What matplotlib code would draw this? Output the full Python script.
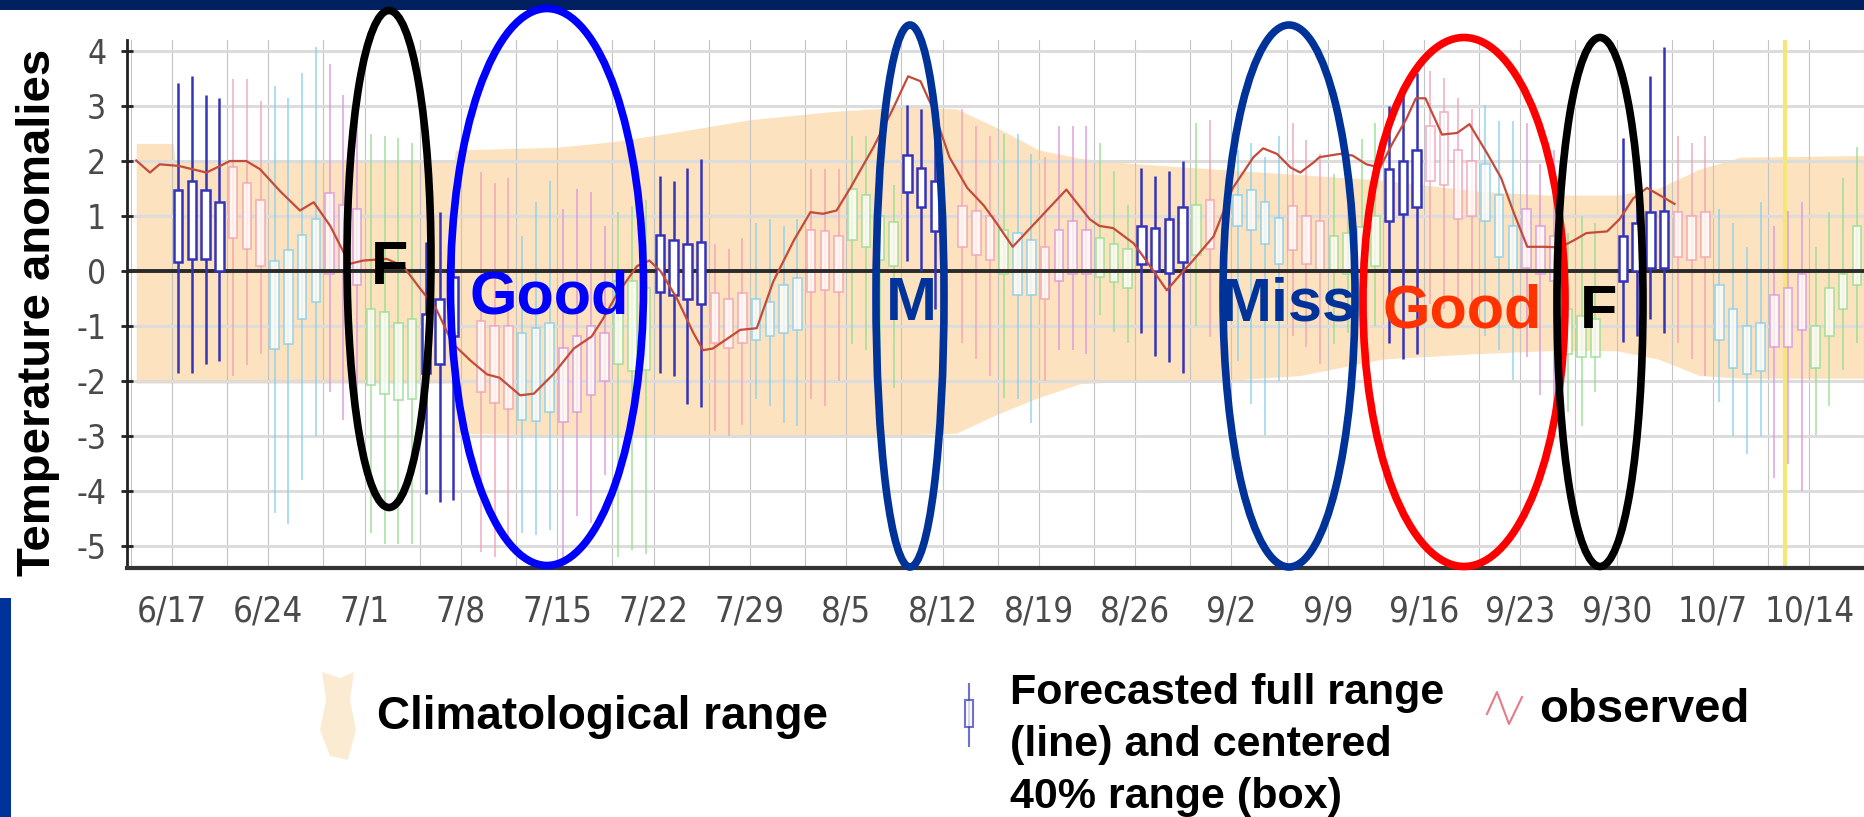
import matplotlib
matplotlib.use('Agg')
import matplotlib.pyplot as plt
from matplotlib import font_manager as fm
from matplotlib.patches import Ellipse, Rectangle, Polygon
from matplotlib.lines import Line2D

W, H, DPI = 1864, 817, 100

names = {f.name for f in fm.fontManager.ttflist}
BOLD = 'Liberation Sans' if 'Liberation Sans' in names else 'DejaVu Sans'


def find_narrow():
    pref = ['Liberation Sans Narrow', 'Arial Narrow', 'DejaVu Sans', 'Roboto Condensed',
            'Open Sans Condensed', 'Noto Sans']
    cands = []
    for f in fm.fontManager.ttflist:
        st = str(f.stretch).lower()
        narrow = ('narrow' in f.name.lower() or 'condensed' in f.name.lower()
                  or 'condensed' in st or st in ('75', '62.5', '50', '87.5'))
        if not narrow:
            continue
        if str(f.style).lower() != 'normal':
            continue
        if f.weight not in (400, 'normal', 'regular', 'Regular', 'book'):
            continue
        cands.append(f)
    for p in pref:
        for f in cands:
            if f.name == p:
                return f.fname
    return cands[0].fname if cands else None


NARROW_PATH = find_narrow()

# ---------------- data ----------------
tick_days = [0, 7, 14, 21, 28, 35, 42, 49, 56, 63, 70, 77, 84, 91, 98, 105, 112, 119]
tick_labels = ['6/17', '6/24', '7/1', '7/8', '7/15', '7/22', '7/29', '8/5', '8/12',
               '8/19', '8/26', '9/2', '9/9', '9/16', '9/23', '9/30', '10/7', '10/14']
grid_days = [-3, 0, 4, 7, 11, 14, 18, 21, 25, 28, 32, 35, 39, 42, 46, 49, 53, 56, 60,
             63, 67, 70, 74, 77, 81, 84, 88, 91, 95, 98, 102, 105, 109, 112, 116, 119, 123]
ytick_vals = [4, 3, 2, 1, 0, -1, -2, -3, -4, -5]
ytick_labels = ['4', '3', '2', '1', '0', '-1', '-2', '-3', '-4', '-5']
today_day = 117.2

# climatological range
clim_days = [-2.6, 0.1, 0.2, 20.5, 20.6, 28, 32, 36, 42, 48, 53, 57, 60, 63, 66, 70,
             76, 82, 88, 95, 100, 105, 108, 111, 114, 123]
clim_top = [2.32, 2.32, 2.0, 2.0, 2.2, 2.25, 2.35, 2.5, 2.75, 2.9, 2.98, 2.95, 2.6, 2.2,
            2.05, 1.95, 1.85, 1.75, 1.65, 1.45, 1.38, 1.38, 1.5, 1.85, 2.07, 2.1]
clim_bot = [-2.04, -2.04, -2.04, -2.04, -2.95, -2.98, -2.98, -2.98, -2.98, -2.98, -2.98,
            -2.95, -2.6, -2.3, -2.05, -2.0, -2.0, -1.9, -1.6, -1.5, -1.45, -1.45, -1.6,
            -1.9, -1.95, -1.95]

# observed
obs_days = [-2.6, -1.6, -0.9, 0.5, 2.5, 3.5, 4.2, 5.4, 6.4, 7.9, 9.3, 10.3, 11.5, 12.9,
            13.9, 15.6, 16.8, 18.0, 19.2, 20.4, 21.7, 22.9, 23.8, 25.3, 26.3, 27.7, 29.2,
            30.5, 31.3, 32.3, 33.8, 34.7, 35.5, 36.7, 37.9, 38.6, 39.3, 40.6, 41.3, 42.5,
            43.7, 45.2, 46.4, 47.3, 48.3, 49.3, 51.0, 52.4, 53.5, 54.4, 55.3, 56.5, 57.8,
            59.0, 59.9, 61.1, 65.0, 66.7, 67.4, 68.4, 69.9, 70.8, 72.3, 73.3, 74.2, 75.7,
            77.1, 78.6, 79.3, 80.3, 81.3, 82.0, 83.0, 83.4, 84.9, 85.8, 86.8, 87.8, 88.7,
            89.7, 90.4, 91.1, 92.3, 93.4, 94.3, 95.6, 96.6, 97.5, 98.5, 99.7, 100.9,
            101.9, 102.8, 104.3, 105.2, 106.2, 107.2, 108.1, 109.2]
obs_vals = [2.01, 1.79, 1.94, 1.91, 1.79, 1.91, 2.0, 2.0, 1.85, 1.44, 1.1, 1.25, 0.82,
            0.13, 0.19, 0.22, 0.09, -0.31, -0.69, -1.32, -1.63, -1.88, -1.94, -2.26,
            -2.23, -1.88, -1.41, -1.19, -0.88, -0.44, 0.09, 0.19, 0.0, -0.5, -1.13, -1.44,
            -1.41, -1.19, -1.07, -1.04, -0.19, 0.56, 1.07, 1.04, 1.1, 1.51, 2.26, 2.95,
            3.54, 3.45, 2.95, 2.07, 1.51, 1.19, 0.88, 0.44, 1.48, 0.94, 0.82, 0.78, 0.5,
            0.19, -0.35, -0.06, 0.19, 0.63, 1.51, 2.07, 2.23, 2.13, 1.88, 1.79, 1.98, 2.07,
            2.13, 2.1, 1.94, 1.88, 2.32, 2.76, 3.14, 3.14, 2.48, 2.51, 2.67, 2.13, 1.69,
            1.07, 0.44, 0.44, 0.43, 0.56, 0.69, 0.72, 0.94, 1.32, 1.51, 1.38, 1.22]

# highlighted forecasts (dark blue)
hl_days = [0, 1, 2, 3, 18, 19, 20, 35, 36, 37, 38, 53, 54, 55, 70, 71, 72, 73,
           88, 89, 90, 105, 106, 107, 108]
hl_hi = [3.42, 3.54, 3.2, 3.14, 0.53, 1.07, 0.35, 1.73, 1.63, 1.88, 2.04, 3.01, 2.95,
         2.89, 1.88, 1.73, 1.82, 2.0, 3.0, 3.2, 3.6, 2.42, 1.6, 3.54, 4.08]
hl_q3 = [1.47, 1.63, 1.47, 1.25, -0.78, -0.5, -0.1, 0.66, 0.56, 0.5, 0.53, 2.1, 1.88,
         1.63, 0.82, 0.78, 0.94, 1.16, 1.85, 2.0, 2.2, 0.63, 0.88, 1.07, 1.1]
hl_q1 = [0.16, 0.22, 0.22, 0.0, -1.85, -1.69, -1.19, -0.38, -0.44, -0.5, -0.6, 1.44,
         1.16, 0.72, 0.13, 0.0, -0.03, 0.16, 0.91, 1.04, 1.16, -0.19, 0.0, 0.06, 0.06]
hl_lo = [-1.85, -1.85, -1.69, -1.63, -4.05, -4.2, -4.17, -1.85, -1.91, -2.42, -2.48,
         0.19, 0.0, -0.69, -1.13, -1.54, -1.66, -1.85, -1.3, -1.6, -1.5, -1.29, -1.19,
         -0.88, -1.13]

# other (faint) forecasts
fc_days = [4, 5, 6, 7, 8, 9, 10, 11, 12, 13, 14, 15, 16, 17, 22, 23, 24, 25, 26, 27,
           28, 29, 30, 31, 32, 33, 34, 39, 40, 41, 42, 43, 44, 45, 46, 47, 48, 49, 50,
           51, 52, 57, 58, 59, 60, 61, 62, 63, 64, 65, 66, 67, 68, 69, 74, 75, 77, 78,
           79, 80, 81, 82, 83, 84, 85, 86, 87, 91, 92, 93, 94, 95, 96, 97, 98, 99, 100,
           101, 102, 103, 109, 110, 111, 112, 113, 114, 115, 116, 117, 118, 119, 120,
           121, 122]
fc_col = list('ppp' 'bbbb' 'mmm' 'gggg' 'ppp' 'bbb' 'mmmm' 'ggg' 'ppp' 'bbbb' 'ppp'
              'gggg' 'ppp' 'g' 'bb' 'p' 'mmm' 'ggg' 'gp' 'bbbb' 'ppp' 'gggg' 'pppp'
              'bbb' 'mmm' 'ggg' 'ppp' 'bbbb' 'mmm' 'gggg')
fc_hi = [3.5, 3.5, 3.1, 3.36, 3.14, 3.6, 4.08, 3.76, 3.2, 2.89, 2.5, 2.45, 2.42, 2.32,
         1.8, 1.6, 1.7, 0.63, 1.25, 1.63, 1.13, 1.5, 1.44, 0.82, 1.07, 1.19, 1.3, 0.5,
         0.4, 0.6, 0.88, 0.94, 0.82, 0.94, 1.85, 1.85, 1.85, 2.45, 2.45, 1.76, 1.57,
         2.95, 2.63, 2.45, 2.5, 2.5, 2.13, 2.07, 2.63, 2.63, 2.63, 2.32, 1.82, 1.2, 2.7,
         2.75, 2.2, 2.32, 2.07, 2.45, 2.7, 2.38, 2.13, 1.76, 2.13, 2.4, 2.7, 3.64, 3.51,
         3.14, 2.95, 3.01, 2.73, 2.73, 2.7, 1.94, 2.2, 0.69, 1.0, 0.88, 2.45, 2.32, 2.45,
         1.13, 0.88, 0.44, 1.25, 0.82, 1.1, 1.25, 0.44, 1.07, 1.69, 2.26]
fc_q3 = [1.9, 1.6, 1.3, 0.19, 0.38, 0.66, 0.94, 1.41, 1.2, 1.13, -0.69, -0.75, -0.94,
         -0.88, -0.9, -1.0, -1.0, -1.13, -1.04, -0.94, -1.4, -1.19, -1.0, -1.13, -0.19,
         -0.19, -0.3, -0.4, -0.5, -0.4, -0.5, -0.56, -0.25, -0.13, 0.75, 0.72, 0.63, 1.5,
         1.38, 1.0, 0.9, 1.19, 1.1, 1.0, 0.75, 0.69, 0.56, 0.44, 0.75, 0.91, 0.75, 0.6,
         0.5, 0.4, 1.2, 1.3, 1.38, 1.47, 1.25, 0.97, 1.19, 1.0, 0.91, 0.63, 0.69, 0.8,
         1.0, 2.63, 2.89, 2.2, 2.0, 1.94, 1.38, 0.82, 1.13, 0.82, 0.63, -0.69, -0.82,
         -0.88, 1.07, 1.0, 1.07, -0.25, -0.69, -1.0, -0.94, -0.44, -0.31, -0.06, -1.0,
         -0.31, -0.06, 0.82]
fc_q1 = [0.6, 0.4, 0.1, -1.41, -1.32, -0.88, -0.56, -0.06, 0.0, -0.25, -2.07, -2.23,
         -2.35, -2.32, -2.2, -2.4, -2.5, -2.7, -2.73, -2.57, -2.75, -2.57, -2.26, -2.0,
         -1.69, -1.82, -1.8, -1.3, -1.4, -1.3, -1.25, -1.19, -1.13, -1.07, -0.38, -0.35,
         -0.38, 0.56, 0.44, 0.2, 0.1, 0.44, 0.3, 0.2, -0.06, -0.44, -0.44, -0.5, -0.19,
         -0.06, -0.06, -0.1, -0.2, -0.3, 0.3, 0.4, 0.82, 0.75, 0.5, 0.13, 0.38, 0.13,
         0.0, 0.0, -0.06, 0.0, 0.1, 1.63, 1.57, 0.94, 1.0, 0.91, 0.25, 0.0, 0.06, -0.06,
         -0.19, -1.5, -1.57, -1.57, 0.25, 0.2, 0.25, -1.25, -1.76, -1.88, -1.82, -1.38,
         -1.38, -1.07, -1.76, -1.19, -0.69, -0.25]
fc_lo = [-1.9, -1.7, -1.5, -4.4, -4.6, -3.8, -3.0, -2.2, -2.7, -2.3, -4.77, -4.96,
         -4.96, -4.96, -5.1, -5.2, -5.0, -4.77, -4.8, -4.7, -5.3, -4.45, -4.58, -3.7,
         -5.2, -5.08, -5.14, -2.9, -3.0, -2.8, -2.32, -2.45, -2.76, -2.82, -2.32, -2.45,
         -2.0, -1.32, -1.44, -1.94, -2.13, -1.3, -1.6, -1.9, -2.3, -2.32, -2.76, -2.0,
         -1.44, -1.44, -1.5, -0.8, -1.1, -1.3, -1.0, -1.2, -1.63, -2.42, -2.98, -2.0,
         -1.19, -1.38, -1.69, -1.32, -1.13, -1.2, -1.0, -0.6, -0.69, -1.0, -0.69, -1.19,
         -1.44, -1.98, -1.57, -2.26, -2.57, -2.57, -2.82, -2.2, -1.3, -1.6, -1.9, -2.38,
         -3.0, -3.32, -3.0, -3.76, -3.5, -4.0, -2.98, -2.45, -1.8, -1.3]

# ---------------- style ----------------
FAINT = {'p': '#F3A0B4', 'b': '#86CFEC', 'g': '#96DE90', 'm': '#DC94DC'}
HL = '#3434B8'
OFF = 0.45      # candles sit in the middle of their day cell
BOXW = 0.62

if NARROW_PATH:
    xfont = fm.FontProperties(fname=NARROW_PATH, size=25)
    yfont = fm.FontProperties(fname=NARROW_PATH, size=24)
else:
    xfont = fm.FontProperties(family=BOLD, size=21)
    yfont = fm.FontProperties(family=BOLD, size=22)


def fx(px):
    return px / W


def fy(py):
    return 1 - py / H


fig = plt.figure(figsize=(W / DPI, H / DPI), dpi=DPI)
fig.patch.set_facecolor('white')

ax = fig.add_axes([fx(127), fy(568), 1 - fx(127), fy(40) - fy(568)])
ax.set_xlim(-3.27, 122.97)
ax.set_ylim(-5.4, 4.2)

# grid
for g in grid_days:
    ax.axvline(g, color='#C4C4C4', lw=0.8, zorder=0.6)
for v in ytick_vals:
    if v != 0:
        ax.axhline(v, color='#DCDCDC', lw=2.2, zorder=0.6)

# climatological band
ax.fill_between(clim_days, clim_bot, clim_top, color='#FBD9A9', alpha=0.75,
                lw=0, zorder=0.5)

# today marker
ax.axvline(today_day, color='#F3E77A', lw=3, zorder=0.7)


def candles(days, lo, q1, q3, hi, colors, alpha, lw, z):
    for d, a, b, c, e, col in zip(days, lo, q1, q3, hi, colors):
        x = d + OFF
        ax.plot([x, x], [a, e], color=col, lw=lw, alpha=alpha, zorder=z,
                solid_capstyle='butt')
        ax.add_patch(Rectangle((x - BOXW / 2, b), BOXW, c - b, facecolor='white',
                               edgecolor=col, lw=lw, alpha=alpha, zorder=z + 0.1))


candles(fc_days, fc_lo, fc_q1, fc_q3, fc_hi, [FAINT[c] for c in fc_col],
        0.75, 1.3, 1.0)

# zero line
ax.axhline(0, color='#2A2A2A', lw=2.8, zorder=2)

candles(hl_days, hl_lo, hl_q1, hl_q3, hl_hi, [HL] * len(hl_days), 1.0, 1.8, 3.0)

# observed
ax.plot(obs_days, obs_vals, color='#C44A3A', lw=1.6, zorder=4)

# axes styling
for s in ['top', 'right']:
    ax.spines[s].set_visible(False)
ax.spines['left'].set_color('#222222')
ax.spines['left'].set_linewidth(2.0)
ax.spines['bottom'].set_color('#333333')
ax.spines['bottom'].set_linewidth(3.0)
ax.set_yticks(ytick_vals)
ax.set_yticklabels(ytick_labels, fontproperties=yfont, color='#4A4A4A')
ax.tick_params(axis='y', direction='inout', length=8, width=2, color='#222222', pad=11)
ax.set_xticks(tick_days)
ax.set_xticklabels(tick_labels, fontproperties=xfont, color='#4A4A4A')
ax.tick_params(axis='x', length=0, pad=19)
ax.set_facecolor('white')

# ---------------- slide decorations ----------------
fig.add_artist(Rectangle((0, fy(10)), 1, 10 / H, transform=fig.transFigure,
                         facecolor='#002060', edgecolor='none', zorder=5))
fig.add_artist(Rectangle((0, 0), fx(11), fy(598), transform=fig.transFigure,
                         facecolor='#003399', edgecolor='none', zorder=5))

fig.text(fx(38), fy(312), 'Temperature anomalies', rotation=90, ha='center',
         va='center', fontsize=34, fontweight='bold', family=BOLD, color='black')

# ellipses: (cx, cy, w, h, color) in pixels
ellipses = [
    (389, 259, 84, 497, 'black'),
    (547, 287, 193, 557, '#0000FF'),
    (910, 296, 68, 542, '#003399'),
    (1289, 296, 132, 542, '#003399'),
    (1464, 302, 202, 529, '#FF0000'),
    (1600, 302, 86, 529, 'black'),
]
for cx, cy, w, h, c in ellipses:
    fig.add_artist(Ellipse((fx(cx), fy(cy)), w / W, h / H, transform=fig.transFigure,
                           fill=False, edgecolor=c, lw=5.5, zorder=6))

labels = [
    (390, 284, 'F', 'black'),
    (549, 313, 'Good', '#0000FF'),
    (911, 320, 'M', '#003399'),
    (1289, 320, 'Miss', '#003399'),
    (1462, 328, 'Good', '#FF3300'),
    (1599, 328, 'F', 'black'),
]
for x, y, t, c in labels:
    fig.text(fx(x), fy(y), t, ha='center', va='baseline', fontsize=44,
             fontweight='bold', family=BOLD, color=c, zorder=7)

# legend
fig.add_artist(Polygon([(fx(322), fy(672)), (fx(340), fy(678)), (fx(354), fy(672)),
                        (fx(350), fy(700)), (fx(356), fy(730)), (fx(348), fy(760)),
                        (fx(330), fy(756)), (fx(320), fy(730)), (fx(326), fy(700))],
                       closed=True, transform=fig.transFigure, facecolor='#FBD9A9',
                       edgecolor='none', alpha=0.5, zorder=5))
fig.text(fx(377), fy(729), 'Climatological range', ha='left', va='baseline',
         fontsize=33, fontweight='bold', family=BOLD, color='black')

fig.add_artist(Line2D([fx(969), fx(969)], [fy(684), fy(746)], transform=fig.transFigure,
                      color=HL, lw=1.5, alpha=0.7, zorder=5))
fig.add_artist(Rectangle((fx(965), fy(727)), 8 / W, 27 / H, transform=fig.transFigure,
                         facecolor='white', edgecolor=HL, lw=1.5, alpha=0.7, zorder=6))
for i, line in enumerate(['Forecasted full range', '(line) and centered',
                          '40% range (box)']):
    fig.text(fx(1010), fy(704 + 52 * i), line, ha='left', va='baseline', fontsize=31,
             fontweight='bold', family=BOLD, color='black')

fig.add_artist(Line2D([fx(1487), fx(1497), fx(1509), fx(1522)],
                      [fy(714), fy(692), fy(724), fy(697)], transform=fig.transFigure,
                      color='#E05A68', lw=1.5, alpha=0.8, zorder=5))
fig.text(fx(1539), fy(722), 'observed', ha='left', va='baseline', fontsize=34,
         fontweight='bold', family=BOLD, color='black')

fig.savefig('out.png', dpi=DPI, facecolor='white')
